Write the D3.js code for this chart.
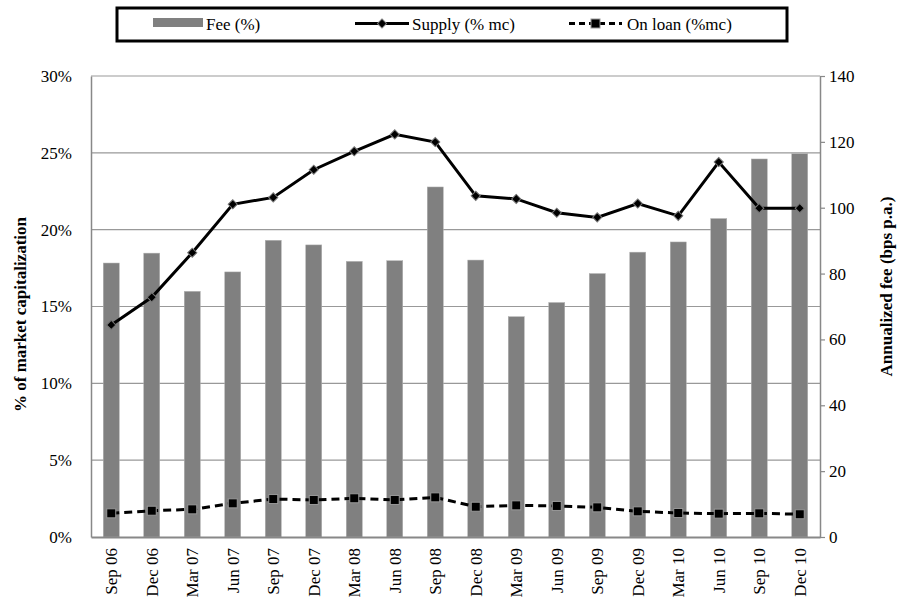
<!DOCTYPE html>
<html>
<head>
<meta charset="utf-8">
<script src="https://cdn.jsdelivr.net/npm/d3@7"></script>
<style>
  body { margin: 0; background: #fff; font-family: 'Times New Roman', 'Liberation Serif', serif; }
  svg { display: block; }
  svg text { font-family: 'Times New Roman', 'Liberation Serif', serif !important; }
</style>
</head>
<body>
<script>
// Data
const quarters = ['Sep 06', 'Dec 06', 'Mar 07', 'Jun 07', 'Sep 07', 'Dec 07', 'Mar 08', 'Jun 08', 'Sep 08',
  'Dec 08', 'Mar 09', 'Jun 09', 'Sep 09', 'Dec 09', 'Mar 10', 'Jun 10', 'Sep 10', 'Dec 10']
const feeBps = [83.2, 86.2, 74.6, 80.5, 90.1, 88.7, 83.7, 83.9, 106.3,
  84.1, 66.9, 71.2, 80.0, 86.5, 89.6, 96.7, 114.8, 116.4]
const supplyPct = [13.8, 15.6, 18.5, 21.65, 22.1, 23.9, 25.1, 26.2, 25.7,
  22.2, 22.0, 21.1, 20.8, 21.7, 20.9, 24.4, 21.4, 21.4]
const onLoanPct = [1.54, 1.71, 1.80, 2.19, 2.47, 2.41, 2.52, 2.41, 2.58,
  1.97, 2.06, 2.02, 1.93, 1.67, 1.56, 1.52, 1.54, 1.48]
const leftTicks = [0, 5, 10, 15, 20, 25, 30]
const rightTicks = [0, 20, 40, 60, 80, 100, 120, 140]

const serif = 'Times New Roman'

// Layout
const width = 899
const height = 610
const margin = { top: 76, right: 79, bottom: 73, left: 91 }
const innerW = width - margin.left - margin.right
const innerH = height - margin.top - margin.bottom

const svg = d3.select('body')
  .append('svg')
  .attr('width', width)
  .attr('height', height)
  .attr('font-family', serif)

const g = svg.append('g')
  .attr('transform', `translate(${margin.left},${margin.top})`)

const x = d3.scaleBand()
  .domain(quarters)
  .range([0, innerW])

const yLeft = d3.scaleLinear().domain([0, 30]).range([innerH, 0])
const yRight = d3.scaleLinear().domain([0, 140]).range([innerH, 0])

// gridlines
g.append('g')
  .selectAll('line')
  .data(leftTicks.slice(1))
  .join('line')
  .attr('x1', 0)
  .attr('x2', innerW)
  .attr('y1', d => yLeft(d))
  .attr('y2', d => yLeft(d))
  .attr('stroke', '#999')
  .attr('stroke-width', 1.2)

// bars
const barW = 16
g.append('g')
  .selectAll('rect')
  .data(feeBps)
  .join('rect')
  .attr('x', (d, i) => x(quarters[i]) + x.bandwidth() / 2 - barW / 2)
  .attr('y', d => yRight(d))
  .attr('width', barW)
  .attr('height', d => innerH - yRight(d))
  .attr('fill', '#808080')
  .attr('stroke', '#b0b0b0')
  .attr('stroke-width', 0.5)

// axes
const leftAxis = g.append('g')
  .call(d3.axisLeft(yLeft).tickValues(leftTicks).tickSize(0).tickPadding(19).tickFormat(d => d + '%'))
leftAxis.select('.domain').attr('stroke', '#888').attr('stroke-width', 1.5)

const rightAxis = g.append('g')
  .attr('transform', `translate(${innerW},0)`)
  .call(d3.axisRight(yRight).tickValues(rightTicks).tickSizeInner(5).tickSizeOuter(0).tickPadding(4))
rightAxis.select('.domain').attr('stroke', '#888').attr('stroke-width', 1.5)
rightAxis.selectAll('.tick line').attr('stroke', '#888').attr('stroke-width', 1.2)

const bottomAxis = g.append('g')
  .attr('transform', `translate(0,${innerH})`)
  .call(d3.axisBottom(x).tickSize(0).tickPadding(0))
bottomAxis.select('.domain').attr('stroke', '#888').attr('stroke-width', 2)
bottomAxis.selectAll('text')
  .attr('transform', 'rotate(-90)')
  .attr('x', -11)
  .attr('y', 0)
  .attr('dy', '0.35em')
  .style('text-anchor', 'end')

for (const axis of [leftAxis, rightAxis, bottomAxis]) {
  axis.attr('font-family', serif).attr('font-size', 17)
  axis.selectAll('text')
    .attr('font-family', serif)
    .attr('font-size', 17)
    .attr('fill', '#000')
}

// lines
const cx = (d, i) => x(quarters[i]) + x.bandwidth() / 2

const supplyLine = d3.line().x(cx).y(d => yLeft(d))
g.append('path')
  .datum(supplyPct)
  .attr('d', supplyLine)
  .attr('fill', 'none')
  .attr('stroke', '#000')
  .attr('stroke-width', 3)

g.append('g')
  .selectAll('path')
  .data(supplyPct)
  .join('path')
  .attr('d', d3.symbol(d3.symbolSquare, 42))
  .attr('transform', (d, i) => `translate(${cx(d, i)},${yLeft(d)}) rotate(45)`)
  .attr('fill', '#000')
  .attr('stroke', '#777')
  .attr('stroke-width', 1)

const loanLine = d3.line().x(cx).y(d => yLeft(d))
g.append('path')
  .datum(onLoanPct)
  .attr('d', loanLine)
  .attr('fill', 'none')
  .attr('stroke', '#000')
  .attr('stroke-width', 3)
  .attr('stroke-dasharray', '8,5')

g.append('g')
  .selectAll('rect')
  .data(onLoanPct)
  .join('rect')
  .attr('x', (d, i) => cx(d, i) - 4.5)
  .attr('y', d => yLeft(d) - 4.5)
  .attr('width', 9)
  .attr('height', 9)
  .attr('fill', '#000')
  .attr('stroke', '#999')
  .attr('stroke-width', 1)

// axis titles
svg.append('text')
  .attr('transform', `translate(26,${margin.top + innerH / 2 + 8}) rotate(-90)`)
  .attr('text-anchor', 'middle')
  .attr('font-size', 17)
  .attr('font-weight', 'bold')
  .text('% of market capitalization')

svg.append('text')
  .attr('transform', `translate(892,${margin.top + innerH / 2 - 20}) rotate(-90)`)
  .attr('text-anchor', 'middle')
  .attr('font-size', 17)
  .attr('font-weight', 'bold')
  .text('Annualized fee (bps p.a.)')

// legend
const legend = svg.append('g')
  .attr('font-size', 17)
legend.append('rect')
  .attr('x', 117)
  .attr('y', 8)
  .attr('width', 670)
  .attr('height', 33)
  .attr('fill', '#fff')
  .attr('stroke', '#000')
  .attr('stroke-width', 3)

legend.append('rect')
  .attr('x', 153).attr('y', 18)
  .attr('width', 50).attr('height', 9)
  .attr('fill', '#808080')
legend.append('text')
  .attr('x', 206).attr('y', 30)
  .text('Fee (%)')

legend.append('line')
  .attr('x1', 355).attr('x2', 409)
  .attr('y1', 23.5).attr('y2', 23.5)
  .attr('stroke', '#000').attr('stroke-width', 3)
legend.append('path')
  .attr('d', d3.symbol(d3.symbolSquare, 42))
  .attr('transform', 'translate(382,23.5) rotate(45)')
  .attr('fill', '#000').attr('stroke', '#777')
legend.append('text')
  .attr('x', 412).attr('y', 30)
  .text('Supply (% mc)')

legend.append('line')
  .attr('x1', 569).attr('x2', 622)
  .attr('y1', 23.5).attr('y2', 23.5)
  .attr('stroke', '#000').attr('stroke-width', 3)
  .attr('stroke-dasharray', '6,4')
legend.append('rect')
  .attr('x', 591).attr('y', 19)
  .attr('width', 9).attr('height', 9)
  .attr('fill', '#000').attr('stroke', '#999')
legend.append('text')
  .attr('x', 627).attr('y', 30)
  .text('On loan (%mc)')
</script>
</body>
</html>
